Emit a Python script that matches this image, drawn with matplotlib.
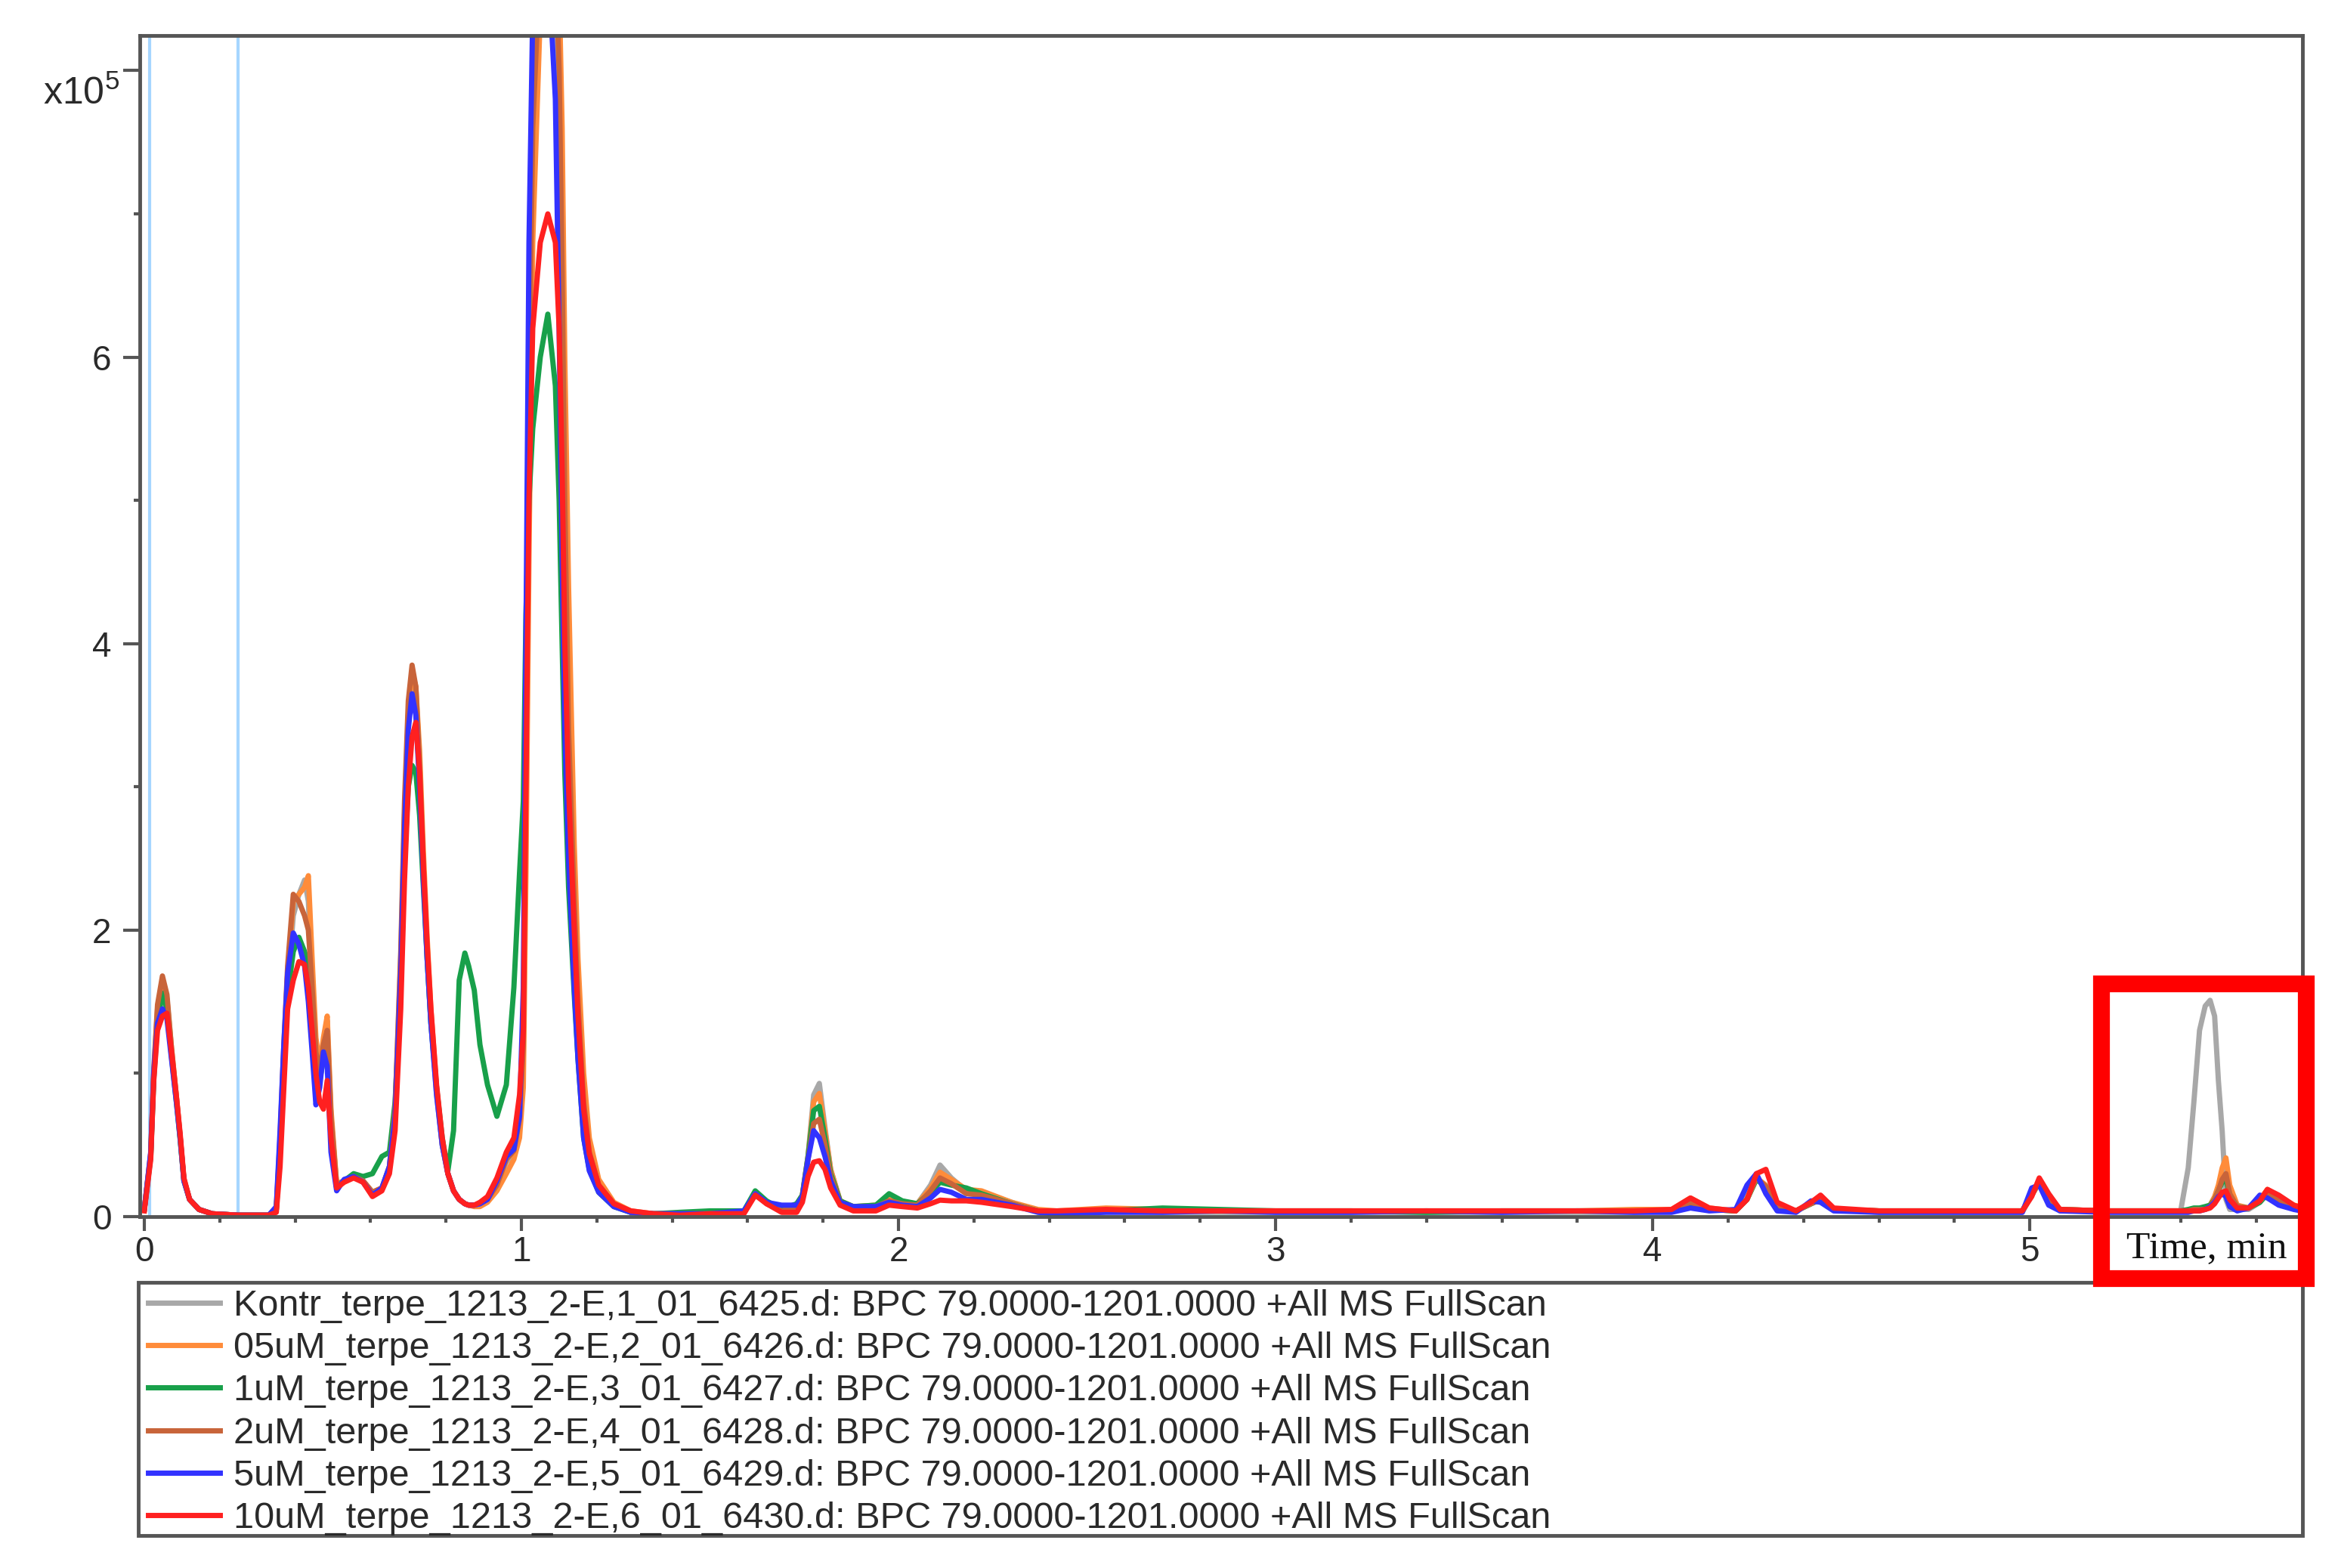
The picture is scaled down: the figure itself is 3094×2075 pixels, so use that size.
import matplotlib
matplotlib.use("Agg")
import matplotlib.pyplot as plt
from matplotlib.lines import Line2D
from matplotlib.patches import Rectangle
from matplotlib.ticker import MultipleLocator, FixedLocator, FixedFormatter
import matplotlib.transforms as mtransforms

plt.rcParams['font.family'] = ['Liberation Sans', 'DejaVu Sans']
plt.rcParams['mathtext.fontset'] = 'custom'
plt.rcParams['mathtext.rm'] = 'Liberation Sans'
plt.rcParams['mathtext.it'] = 'Liberation Sans'

# ----- data (intensity in units of 1e5) -----

rt_min = [
    0.000, 0.017, 0.025, 0.035, 0.048, 0.060, 0.072, 0.085, 0.095, 0.105, 0.120, 0.145, 0.180, 0.250, 0.330,
    0.350, 0.360, 0.370, 0.380, 0.395, 0.410, 0.425, 0.435, 0.445, 0.455, 0.465, 0.475, 0.485, 0.495, 0.510,
    0.530, 0.555, 0.580, 0.605, 0.630,
    0.650, 0.665, 0.680, 0.690, 0.700, 0.710, 0.720, 0.730, 0.740, 0.750, 0.760, 0.775, 0.790, 0.805, 0.820,
    0.835, 0.850, 0.860, 0.875, 0.890, 0.910, 0.935, 0.960, 0.980, 0.995,
    1.005, 1.012, 1.020, 1.030, 1.050, 1.070, 1.090, 1.100, 1.108, 1.115, 1.125, 1.140, 1.150, 1.165, 1.180,
    1.205, 1.245, 1.290, 1.350,
    1.420, 1.500, 1.590, 1.620, 1.650, 1.690, 1.730, 1.745, 1.760, 1.775, 1.790, 1.805, 1.820, 1.845, 1.880,
    1.940, 1.975, 2.010, 2.050, 2.085, 2.110, 2.140, 2.180, 2.220, 2.300, 2.370, 2.420,
    2.550, 2.700, 2.850, 3.000, 3.200, 3.400, 3.600, 3.800, 3.950,
    4.050, 4.100, 4.150, 4.220, 4.250, 4.275, 4.300, 4.330, 4.380, 4.420, 4.445, 4.480, 4.600, 4.800, 4.980,
    5.005, 5.025, 5.050, 5.080, 5.200, 5.350, 5.400, 5.420, 5.435, 5.450, 5.465, 5.478, 5.490, 5.500, 5.510,
    5.520, 5.530, 5.550, 5.580, 5.610, 5.630, 5.660, 5.700, 5.720,
]

kontr = [
    0.05, 0.42, 0.95, 1.35, 1.55, 1.45, 1.15, 0.82, 0.55, 0.25, 0.12, 0.05, 0.02, 0.01, 0.01,
    0.05, 0.50, 1.10, 1.60, 2.10, 2.25, 2.35, 2.20, 1.60, 1.10, 1.00, 1.20, 1.37, 0.70, 0.22, 0.25, 0.28, 0.25, 0.17, 0.20,
    0.35, 0.75, 1.80, 2.80, 3.50, 3.75, 3.60, 3.10, 2.40, 1.80, 1.35, 0.85, 0.50, 0.30, 0.18, 0.12, 0.09, 0.08, 0.08, 0.09,
    0.12, 0.22, 0.38, 0.45, 0.65,
    1.30, 3.40, 6.00, 7.80, 8.80, 9.00, 8.60, 7.60, 6.00, 4.40, 3.00, 1.90, 1.25, 0.65, 0.38, 0.19, 0.08, 0.03, 0.02,
    0.02, 0.02, 0.03, 0.17, 0.10, 0.04, 0.08, 0.15, 0.42, 0.85, 0.93, 0.62, 0.33, 0.11, 0.06, 0.07, 0.11, 0.10, 0.09,
    0.22, 0.36, 0.27, 0.18, 0.17, 0.10, 0.04, 0.03,
    0.04, 0.03, 0.03, 0.03, 0.03, 0.03, 0.03, 0.03, 0.03,
    0.04, 0.10, 0.05, 0.04, 0.15, 0.27, 0.20, 0.06, 0.04, 0.09, 0.12, 0.05, 0.03, 0.03, 0.03, 0.15, 0.24, 0.12, 0.04,
    0.04, 0.04, 0.04, 0.34, 0.80, 1.30, 1.47, 1.51, 1.40, 0.95, 0.60, 0.12, 0.05, 0.05, 0.05, 0.10, 0.16, 0.10, 0.06,
    0.05,
]

um05 = [
    0.05, 0.44, 1.00, 1.45, 1.65, 1.52, 1.18, 0.84, 0.56, 0.26, 0.12, 0.05, 0.02, 0.01, 0.01,
    0.05, 0.50, 1.15, 1.70, 2.20, 2.25, 2.30, 2.38, 1.80, 1.25, 1.05, 1.25, 1.40, 0.75, 0.23, 0.25, 0.28, 0.25, 0.17, 0.20,
    0.33, 0.70, 1.70, 2.75, 3.50, 3.80, 3.70, 3.25, 2.55, 1.95, 1.45, 0.90, 0.52, 0.30, 0.18, 0.12, 0.09, 0.08, 0.07, 0.07,
    0.10, 0.18, 0.30, 0.40, 0.55,
    0.90, 2.40, 4.60, 6.80, 8.40, 9.00, 9.00, 8.60, 7.60, 6.00, 4.40, 2.60, 1.80, 1.00, 0.55, 0.26, 0.10, 0.04, 0.02,
    0.02, 0.02, 0.03, 0.17, 0.10, 0.04, 0.08, 0.15, 0.42, 0.80, 0.86, 0.60, 0.33, 0.11, 0.07, 0.08, 0.12, 0.10, 0.09,
    0.20, 0.31, 0.26, 0.19, 0.18, 0.10, 0.05, 0.04,
    0.06, 0.05, 0.04, 0.04, 0.04, 0.04, 0.04, 0.04, 0.05,
    0.05, 0.13, 0.06, 0.04, 0.12, 0.27, 0.22, 0.07, 0.04, 0.10, 0.13, 0.05, 0.04, 0.04, 0.04, 0.16, 0.25, 0.13, 0.05,
    0.04, 0.04, 0.04, 0.04, 0.05, 0.05, 0.06, 0.08, 0.14, 0.22, 0.34, 0.41, 0.22, 0.08, 0.06, 0.12, 0.19, 0.14, 0.08,
    0.07,
]

um1 = [
    0.05, 0.42, 0.97, 1.38, 1.56, 1.45, 1.12, 0.80, 0.54, 0.25, 0.12, 0.05, 0.02, 0.01, 0.01,
    0.05, 0.45, 1.05, 1.55, 1.85, 1.95, 1.85, 1.75, 1.50, 1.05, 0.95, 1.10, 1.20, 0.60, 0.20, 0.25, 0.30, 0.28, 0.30, 0.42,
    0.45, 0.80, 1.60, 2.50, 3.00, 3.15, 3.10, 2.80, 2.30, 1.80, 1.35, 0.90, 0.55, 0.32, 0.60, 1.65, 1.84, 1.75, 1.58, 1.20,
    0.92, 0.70, 0.92, 1.60, 2.40,
    2.90, 4.20, 5.00, 5.50, 6.00, 6.30, 5.80, 5.00, 4.00, 3.10, 2.30, 1.55, 1.10, 0.55, 0.33, 0.17, 0.07, 0.03, 0.02,
    0.03, 0.04, 0.04, 0.18, 0.11, 0.05, 0.09, 0.15, 0.42, 0.74, 0.77, 0.55, 0.30, 0.11, 0.07, 0.08, 0.16, 0.11, 0.09,
    0.17, 0.24, 0.22, 0.20, 0.16, 0.09, 0.04, 0.03,
    0.04, 0.06, 0.05, 0.04, 0.04, 0.03, 0.04, 0.04, 0.04,
    0.04, 0.08, 0.05, 0.04, 0.12, 0.26, 0.21, 0.07, 0.04, 0.09, 0.12, 0.05, 0.04, 0.04, 0.04, 0.15, 0.24, 0.12, 0.05,
    0.04, 0.04, 0.04, 0.05, 0.06, 0.06, 0.07, 0.08, 0.12, 0.18, 0.24, 0.26, 0.15, 0.07, 0.06, 0.10, 0.16, 0.12, 0.07,
    0.06,
]

um2 = [
    0.05, 0.44, 1.02, 1.48, 1.68, 1.55, 1.18, 0.84, 0.56, 0.26, 0.12, 0.05, 0.02, 0.01, 0.01,
    0.06, 0.55, 1.20, 1.75, 2.25, 2.20, 2.10, 2.00, 1.60, 1.15, 1.00, 1.20, 1.30, 0.70, 0.22, 0.25, 0.28, 0.25, 0.17, 0.20,
    0.35, 0.75, 1.85, 2.90, 3.60, 3.85, 3.70, 3.15, 2.45, 1.85, 1.40, 0.88, 0.50, 0.30, 0.18, 0.12, 0.09, 0.08, 0.08, 0.09,
    0.12, 0.22, 0.40, 0.46, 0.68,
    1.20, 3.20, 5.80, 7.60, 8.80, 9.00, 8.80, 8.00, 6.60, 5.00, 3.40, 2.20, 1.50, 0.80, 0.45, 0.22, 0.09, 0.03, 0.02,
    0.02, 0.02, 0.03, 0.16, 0.09, 0.04, 0.07, 0.14, 0.40, 0.65, 0.68, 0.50, 0.28, 0.10, 0.06, 0.07, 0.11, 0.09, 0.08,
    0.18, 0.27, 0.23, 0.16, 0.15, 0.09, 0.04, 0.03,
    0.04, 0.04, 0.04, 0.04, 0.04, 0.04, 0.04, 0.04, 0.04,
    0.04, 0.10, 0.05, 0.04, 0.12, 0.27, 0.21, 0.07, 0.04, 0.09, 0.12, 0.05, 0.04, 0.04, 0.04, 0.15, 0.24, 0.12, 0.05,
    0.04, 0.04, 0.04, 0.04, 0.05, 0.05, 0.05, 0.07, 0.12, 0.18, 0.26, 0.30, 0.16, 0.07, 0.06, 0.11, 0.17, 0.12, 0.07,
    0.06,
]

um5 = [
    0.05, 0.45, 1.00, 1.35, 1.45, 1.38, 1.10, 0.80, 0.55, 0.25, 0.12, 0.05, 0.02, 0.01, 0.01,
    0.07, 0.60, 1.20, 1.70, 1.98, 1.90, 1.75, 1.50, 1.15, 0.78, 0.90, 1.15, 1.05, 0.45, 0.18, 0.26, 0.28, 0.24, 0.15, 0.20,
    0.35, 0.70, 1.70, 2.70, 3.40, 3.65, 3.50, 3.00, 2.35, 1.80, 1.35, 0.85, 0.50, 0.30, 0.18, 0.12, 0.09, 0.08, 0.08, 0.09,
    0.12, 0.25, 0.42, 0.47, 0.70,
    1.60, 4.00, 6.80, 8.40, 9.00, 8.80, 7.80, 6.20, 4.60, 3.40, 2.50, 1.60, 1.10, 0.55, 0.32, 0.17, 0.07, 0.03, 0.02,
    0.02, 0.02, 0.04, 0.16, 0.10, 0.08, 0.08, 0.14, 0.40, 0.60, 0.55, 0.42, 0.25, 0.10, 0.07, 0.07, 0.10, 0.08, 0.07,
    0.13, 0.19, 0.17, 0.12, 0.12, 0.08, 0.03, 0.02,
    0.03, 0.03, 0.04, 0.03, 0.03, 0.04, 0.03, 0.04, 0.03,
    0.03, 0.06, 0.04, 0.05, 0.22, 0.30, 0.16, 0.04, 0.03, 0.11, 0.10, 0.04, 0.03, 0.03, 0.03, 0.20, 0.22, 0.08, 0.04,
    0.03, 0.03, 0.03, 0.03, 0.04, 0.04, 0.05, 0.07, 0.10, 0.14, 0.16, 0.14, 0.07, 0.04, 0.06, 0.15, 0.13, 0.08, 0.05,
    0.04,
]

um10 = [
    0.04, 0.40, 0.95, 1.30, 1.40, 1.42, 1.15, 0.84, 0.58, 0.27, 0.12, 0.05, 0.02, 0.01, 0.01,
    0.03, 0.35, 0.90, 1.45, 1.65, 1.78, 1.76, 1.60, 1.30, 1.00, 0.80, 0.75, 0.95, 0.55, 0.20, 0.24, 0.27, 0.24, 0.14, 0.18,
    0.30, 0.60, 1.45, 2.35, 3.00, 3.35, 3.45, 3.10, 2.45, 1.90, 1.45, 0.92, 0.55, 0.30, 0.18, 0.12, 0.09, 0.08, 0.08, 0.10,
    0.14, 0.27, 0.45, 0.55, 0.85,
    1.30, 3.00, 5.00, 6.20, 6.80, 7.00, 6.80, 6.20, 5.20, 4.00, 3.00, 2.00, 1.40, 0.75, 0.44, 0.22, 0.09, 0.04, 0.02,
    0.01, 0.02, 0.02, 0.15, 0.09, 0.03, 0.03, 0.10, 0.28, 0.38, 0.39, 0.33, 0.20, 0.08, 0.04, 0.04, 0.08, 0.07, 0.06,
    0.09, 0.115, 0.11, 0.11, 0.10, 0.07, 0.04, 0.04,
    0.05, 0.04, 0.04, 0.04, 0.04, 0.04, 0.04, 0.04, 0.04,
    0.05, 0.13, 0.06, 0.04, 0.12, 0.30, 0.33, 0.10, 0.04, 0.10, 0.15, 0.06, 0.04, 0.04, 0.04, 0.14, 0.27, 0.16, 0.05,
    0.04, 0.04, 0.04, 0.04, 0.04, 0.04, 0.05, 0.06, 0.09, 0.13, 0.17, 0.18, 0.12, 0.06, 0.06, 0.11, 0.19, 0.15, 0.08,
    0.06,
]

series_labels = [
    "Kontr_terpe_1213_2-E,1_01_6425.d: BPC 79.0000-1201.0000 +All MS FullScan",
    "05uM_terpe_1213_2-E,2_01_6426.d: BPC 79.0000-1201.0000 +All MS FullScan",
    "1uM_terpe_1213_2-E,3_01_6427.d: BPC 79.0000-1201.0000 +All MS FullScan",
    "2uM_terpe_1213_2-E,4_01_6428.d: BPC 79.0000-1201.0000 +All MS FullScan",
    "5uM_terpe_1213_2-E,5_01_6429.d: BPC 79.0000-1201.0000 +All MS FullScan",
    "10uM_terpe_1213_2-E,6_01_6430.d: BPC 79.0000-1201.0000 +All MS FullScan",
]
series_values = [kontr, um05, um1, um2, um5, um10]
series_colors = ['#a8a8a8', '#ff8c3a', '#18a04a', '#c8643a', '#3232ff', '#ff2020']

# cursor lines of the viewer
cursor_times = [0.015, 0.248]

for vals in series_values:
    assert len(vals) == len(rt_min), len(vals)

# ----- layout in pixels of the 3094 x 2075 picture -----
W, H = 3094, 2075
ax_l, ax_r, ax_t, ax_b = 185, 3047, 47, 1610
leg_l, leg_t, leg_b = 183, 1697, 2032
frame_col = '#555555'
text_col = '#2a2a2a'

fig = plt.figure(figsize=(W / 100, H / 100), dpi=100)
ax = fig.add_axes([ax_l / W, 1 - ax_b / H, (ax_r - ax_l) / W, (ax_b - ax_t) / H])

for t in cursor_times:
    ax.axvline(t, color='#a6d6ff', lw=3, zorder=1)

for vals, col in zip(series_values, series_colors):
    ax.plot(rt_min, vals, color=col, lw=5, solid_joinstyle='round', zorder=2)

ax.set_xlim(-0.012, 5.723)
ax.set_ylim(0, 8.245)

ax.xaxis.set_major_locator(MultipleLocator(1))
ax.xaxis.set_minor_locator(MultipleLocator(0.2))
ax.yaxis.set_major_locator(FixedLocator([0, 2, 4, 6, 8]))
ax.yaxis.set_major_formatter(FixedFormatter(['0', '2', '4', '6', '']))
ax.yaxis.set_minor_locator(FixedLocator([1, 3, 5, 7]))

for sp in ax.spines.values():
    sp.set_color(frame_col)
    sp.set_linewidth(3.5)

ax.tick_params(axis='both', which='major', direction='out', color=frame_col,
               width=3, labelsize=33, labelcolor=text_col)
ax.tick_params(axis='x', which='major', length=14, pad=4)
ax.tick_params(axis='y', which='major', length=16, pad=11)
ax.tick_params(axis='both', which='minor', direction='out', color=frame_col, width=3, length=6)

# exponent label sitting at the top tick
trans = mtransforms.blended_transform_factory(ax.transAxes, ax.transData)
ax.text(-0.0095, 7.96, 'x10$^{5}$', transform=trans, ha='right', va='top',
        fontsize=36, color=text_col)

# right frame line continues down to the legend box
fig.add_artist(Line2D([ax_r / W, ax_r / W], [1 - ax_b / H, 1 - leg_t / H],
                      transform=fig.transFigure, color=frame_col, lw=3.5))

# legend box under the plot
fig.add_artist(Rectangle((leg_l / W, 1 - leg_b / H), (ax_r - leg_l) / W, (leg_b - leg_t) / H,
                         transform=fig.transFigure, fill=False, ec=frame_col, lw=3.5))
handles = [Line2D([], [], color=c, lw=5) for c in series_colors]
leg = fig.legend(handles, series_labels, loc='upper left',
                 bbox_to_anchor=(196 / W, 1 - 1706 / H), bbox_transform=fig.transFigure,
                 fontsize=35, frameon=False, borderaxespad=0, borderpad=0,
                 labelspacing=0.23, handlelength=1.95, handletextpad=0.37)
for txt in leg.get_texts():
    txt.set_color(text_col)

# highlighted region
fig.add_artist(Rectangle((2781 / W, 1 - 1692 / H), (3052 - 2781) / W, (1692 - 1302) / H,
                         transform=fig.transFigure, fill=False, ec='#ff0000', lw=16, zorder=10))
fig.text(2920 / W, 1 - 1653 / H, 'Time, min', family='Liberation Serif', fontsize=37,
         ha='center', va='center', color='#111111')

fig.savefig('out.png', dpi=100, facecolor='white')
